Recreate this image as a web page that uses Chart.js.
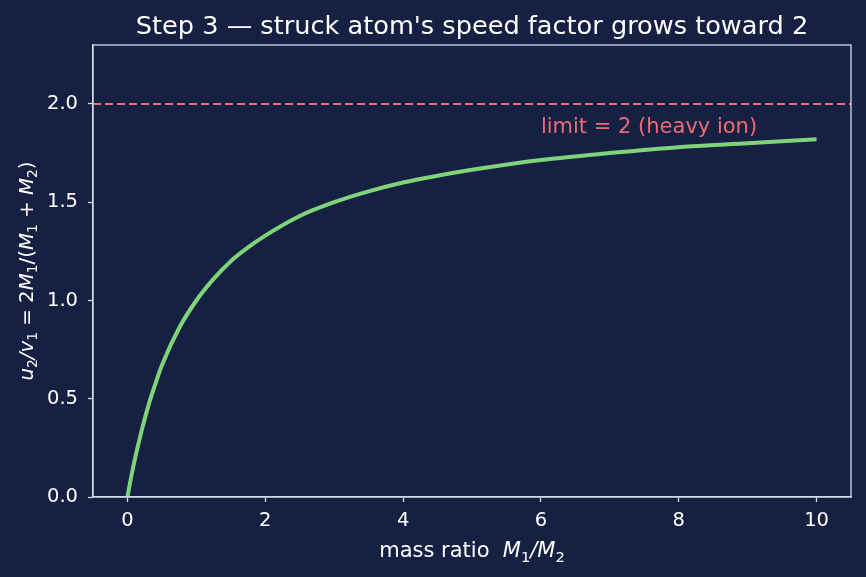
<!DOCTYPE html>
<html>
<head>
<meta charset="utf-8">
<script src="https://cdn.jsdelivr.net/npm/chart.js@4/dist/chart.umd.min.js"></script>
<style>
  html, body { margin: 0; padding: 0; background: #152042; }
  #wrap { width: 866px; height: 577px; }
</style>
</head>
<body>
<div id="wrap"><canvas id="chart"></canvas></div>
<script>
// values
const massRatio = [0, 0.05, 0.1, 0.2, 0.3, 0.4, 0.5, 0.75, 1, 1.25, 1.5, 1.75, 2, 2.5, 3, 3.5, 4, 4.5, 5, 6, 7, 8, 9, 10];
const speedFactor = [0, 0.095, 0.18, 0.33, 0.46, 0.57, 0.67, 0.86, 1.0, 1.11, 1.2, 1.27, 1.33, 1.43, 1.5, 1.555, 1.6, 1.635, 1.665, 1.715, 1.75, 1.78, 1.8, 1.82];
const limitValue = 2;
const xTicks = [0, 2, 4, 6, 8, 10];
const yTicks = [0, 0.5, 1.0, 1.5, 2.0];

const bg = '#152042';
const fg = '#ffffff';
const spine = '#d4dbea';
const green = '#7fd47a';
const red = '#ec6b74';
const font = '"DejaVu Sans", sans-serif';

// draw a label made of plain / italic / subscript pieces, centred on 0
function drawRich(ctx, parts, size) {
  let w = 0;
  parts.forEach(p => {
    const s = p.sub ? size * 0.7 : size;
    ctx.font = (p.it ? 'italic ' : '') + s + 'px ' + font;
    p.w = ctx.measureText(p.t).width;
    w += p.w;
  });
  let x = -w / 2;
  parts.forEach(p => {
    const s = p.sub ? size * 0.7 : size;
    ctx.font = (p.it ? 'italic ' : '') + s + 'px ' + font;
    ctx.fillText(p.t, x, p.sub ? size * 0.22 : 0);
    x += p.w;
  });
}

const decor = {
  id: 'decor',
  beforeDraw(chart) {
    const ctx = chart.ctx;
    ctx.save();
    ctx.fillStyle = bg;
    ctx.fillRect(0, 0, chart.width, chart.height);
    ctx.restore();
  },
  afterDraw(chart) {
    const ctx = chart.ctx;
    const a = chart.chartArea;
    const xs = chart.scales.x, ys = chart.scales.y;
    ctx.save();
    ctx.strokeStyle = spine;
    ctx.lineWidth = 1.3;
    ctx.strokeRect(a.left, a.top, a.right - a.left, a.bottom - a.top);

    // title
    ctx.fillStyle = fg;
    ctx.textAlign = 'center';
    ctx.textBaseline = 'alphabetic';
    ctx.font = '25.6px ' + font;
    ctx.fillText("Step 3 \u2014 struck atom's speed factor grows toward 2", (a.left + a.right) / 2, 34);

    // limit note
    ctx.fillStyle = red;
    ctx.textAlign = 'left';
    ctx.font = '21px ' + font;
    ctx.fillText('limit = 2 (heavy ion)', xs.getPixelForValue(6), ys.getPixelForValue(1.85));

    // x label
    ctx.fillStyle = fg;
    ctx.save();
    ctx.translate((a.left + a.right) / 2, 557);
    drawRich(ctx, [
      { t: 'mass ratio  ' }, { t: 'M', it: true }, { t: '1', sub: true },
      { t: '/', it: true }, { t: 'M', it: true }, { t: '2', sub: true }
    ], 21);
    ctx.restore();

    // y label
    ctx.save();
    ctx.translate(33, (a.top + a.bottom) / 2);
    ctx.rotate(-Math.PI / 2);
    drawRich(ctx, [
      { t: 'u', it: true }, { t: '2', sub: true }, { t: '/', it: true }, { t: 'v', it: true }, { t: '1', sub: true },
      { t: ' = 2' }, { t: 'M', it: true }, { t: '1', sub: true }, { t: '/(' }, { t: 'M', it: true }, { t: '1', sub: true },
      { t: ' + ' }, { t: 'M', it: true }, { t: '2', sub: true }, { t: ')' }
    ], 19.8);
    ctx.restore();
    ctx.restore();
  }
};

new Chart(document.getElementById('chart'), {
  type: 'scatter',
  data: {
    datasets: [
      {
        label: 'limit',
        data: [{ x: -0.5, y: limitValue }, { x: 10.5, y: limitValue }],
        showLine: true,
        borderColor: red,
        borderWidth: 2,
        borderDash: [8, 4],
        pointRadius: 0
      },
      {
        label: 'speed factor',
        data: massRatio.map((m, i) => ({ x: m, y: speedFactor[i] })),
        showLine: true,
        borderColor: green,
        borderWidth: 4,
        cubicInterpolationMode: 'monotone',
        pointRadius: 0
      }
    ]
  },
  options: {
    responsive: true,
    maintainAspectRatio: false,
    animation: false,
    layout: { padding: { top: 45, right: 15, left: 0, bottom: 0 } },
    plugins: { legend: { display: false }, tooltip: { enabled: false } },
    scales: {
      x: {
        type: 'linear',
        min: -0.5,
        max: 10.5,
        afterBuildTicks: s => { s.ticks = xTicks.map(v => ({ value: v })); },
        afterFit: s => { s.height = 80; },
        grid: { drawOnChartArea: false, color: spine, tickLength: 5, tickWidth: 1.3 },
        border: { color: spine, width: 1.3 },
        ticks: { color: fg, font: { family: font, size: 19.5 }, padding: 7, maxRotation: 0, callback: v => String(v) }
      },
      y: {
        min: 0,
        max: 2.3,
        afterBuildTicks: s => { s.ticks = yTicks.map(v => ({ value: v })); },
        afterFit: s => { s.width = 93; },
        grid: { drawOnChartArea: false, color: spine, tickLength: 5, tickWidth: 1.3 },
        border: { color: spine, width: 1.3 },
        ticks: { color: fg, font: { family: font, size: 19.5 }, padding: 10, callback: v => v.toFixed(1) }
      }
    }
  },
  plugins: [decor]
});
</script>
</body>
</html>
